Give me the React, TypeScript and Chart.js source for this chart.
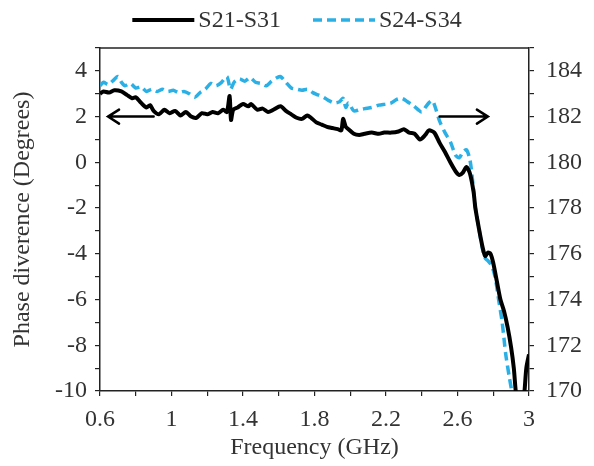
import React, { useEffect, useRef } from "react";
import { Chart, registerables } from "chart.js";

Chart.register(...registerables);

// S21-S31 (left axis, degrees)
const freqA = [0.6, 0.62, 0.65, 0.68, 0.72, 0.75, 0.78, 0.8, 0.83, 0.86, 0.88, 0.9, 0.93, 0.96, 0.99, 1.02, 1.05, 1.08, 1.11, 1.14, 1.17, 1.2, 1.23, 1.26, 1.29, 1.31, 1.325, 1.333, 1.345, 1.37, 1.4, 1.43, 1.445, 1.48, 1.51, 1.54, 1.57, 1.61, 1.64, 1.67, 1.7, 1.73, 1.76, 1.78, 1.81, 1.84, 1.87, 1.9, 1.93, 1.95, 1.96, 1.975, 1.99, 2.02, 2.05, 2.08, 2.12, 2.16, 2.19, 2.23, 2.27, 2.3, 2.33, 2.36, 2.39, 2.42, 2.44, 2.47, 2.5, 2.53, 2.56, 2.59, 2.61, 2.63, 2.65, 2.67, 2.69, 2.7, 2.72, 2.74, 2.755, 2.77, 2.785, 2.8, 2.82, 2.84, 2.86, 2.88, 2.9, 2.915, 2.93, 2.95, 2.965, 2.975, 2.985, 3.0];
const s21s31 = [3.0, 3.1, 3.05, 3.15, 3.1, 2.95, 2.8, 2.85, 2.6, 2.4, 2.5, 2.25, 2.1, 2.3, 2.15, 2.25, 2.05, 2.2, 2.0, 1.95, 2.15, 2.1, 2.2, 2.15, 2.3, 2.2, 2.9, 1.85, 2.3, 2.4, 2.55, 2.45, 2.55, 2.3, 2.35, 2.2, 2.3, 2.45, 2.25, 2.1, 1.95, 1.9, 2.05, 1.95, 1.75, 1.65, 1.55, 1.5, 1.45, 1.4, 1.9, 1.55, 1.45, 1.25, 1.2, 1.25, 1.3, 1.25, 1.3, 1.3, 1.35, 1.45, 1.3, 1.25, 1.0, 1.2, 1.4, 1.3, 0.85, 0.45, 0.0, -0.4, -0.55, -0.45, -0.2, -0.5, -1.3, -2.0, -2.9, -3.7, -4.1, -3.95, -4.0, -4.4, -5.2, -6.0, -6.5, -7.2, -8.1, -9.0, -10.3, -10.8, -10.6, -10.0, -9.0, -8.4];

// S24-S34 (right axis, degrees)
const freqB = [0.6, 0.62, 0.645, 0.67, 0.7, 0.72, 0.74, 0.77, 0.8, 0.83, 0.86, 0.89, 0.92, 0.95, 0.98, 1.01, 1.04, 1.07, 1.1, 1.13, 1.16, 1.19, 1.22, 1.25, 1.28, 1.31, 1.33, 1.35, 1.38, 1.41, 1.44, 1.47, 1.5, 1.53, 1.56, 1.59, 1.61, 1.64, 1.67, 1.7, 1.73, 1.76, 1.79, 1.82, 1.85, 1.88, 1.91, 1.94, 1.96, 1.975, 1.99, 2.02, 2.05, 2.08, 2.12, 2.16, 2.2, 2.23, 2.26, 2.29, 2.32, 2.35, 2.38, 2.4, 2.42, 2.44, 2.46, 2.48, 2.5, 2.53, 2.56, 2.59, 2.61, 2.63, 2.65, 2.67, 2.69, 2.7, 2.72, 2.74, 2.755, 2.77, 2.79, 2.81, 2.83, 2.85, 2.87, 2.89, 2.91, 2.92];
const s24s34 = [183.35, 183.5, 183.4, 183.55, 183.75, 183.5, 183.35, 183.45, 183.25, 183.3, 183.1, 183.2, 183.1, 183.2, 183.1, 183.15, 183.05, 183.1, 183.0, 182.85, 183.05, 183.2, 183.45, 183.35, 183.5, 183.75, 183.2, 183.5, 183.65, 183.55, 183.7, 183.5, 183.45, 183.35, 183.55, 183.7, 183.75, 183.5, 183.25, 183.2, 183.15, 183.2, 183.05, 182.95, 182.85, 182.7, 182.6, 182.65, 182.8, 182.4, 182.6, 182.25, 182.3, 182.35, 182.4, 182.5, 182.55, 182.6, 182.75, 182.8, 182.65, 182.5, 182.3, 182.2, 182.4, 182.6, 182.7, 182.3, 181.8, 181.3, 180.9, 180.3, 180.2, 180.45, 180.55, 180.1, 178.8, 178.0, 177.1, 176.2, 175.8, 175.7, 175.5, 175.0, 174.0, 173.0, 171.6, 170.6, 169.7, 169.2];

const seriesNames = ["S21-S31", "S24-S34"];
const seriesColors = ["#000000", "#2bb0e6"];

// Arrows: [fromFreq, toFreq, leftAxisValue]
const arrowLeft = [0.9, 0.645, 2];
const arrowRight = [2.5, 2.77, 2];

const FONT = "'Liberation Serif', 'Times New Roman', serif";
const TEXT = "#333333";
const FS = 24;

const framePlugin = {
  id: "frame",
  afterDatasetsDraw(chart: any) {
    const { ctx, chartArea, scales } = chart;
    const x = scales.x;
    const y = scales.y;
    const drawArrow = (a: number[]) => {
      const x0 = x.getPixelForValue(a[0]);
      const x1 = x.getPixelForValue(a[1]);
      const yy = y.getPixelForValue(a[2]);
      const dir = x1 > x0 ? 1 : -1;
      ctx.save();
      ctx.strokeStyle = "#000";
      ctx.lineWidth = 2.5;
      ctx.lineCap = "round";
      ctx.beginPath();
      ctx.moveTo(x0, yy);
      ctx.lineTo(x1, yy);
      ctx.moveTo(x1 - dir * 11, yy - 7);
      ctx.lineTo(x1, yy);
      ctx.lineTo(x1 - dir * 11, yy + 7);
      ctx.stroke();
      ctx.restore();
    };
    drawArrow(arrowLeft);
    drawArrow(arrowRight);
    ctx.save();
    ctx.strokeStyle = "#222";
    ctx.lineWidth = 1.5;
    ctx.beginPath();
    ctx.moveTo(chartArea.left, chartArea.top);
    ctx.lineTo(chartArea.right, chartArea.top);
    ctx.stroke();
    ctx.restore();
  },
  afterDraw(chart: any) {
    const { ctx, width } = chart;
    ctx.save();
    ctx.font = `${FS}px ${FONT}`;
    ctx.textBaseline = "middle";
    ctx.textAlign = "left";
    const lineLen = 62;
    const gap = 4;
    const itemGap = 32;
    const w0 = ctx.measureText(seriesNames[0]).width;
    const w1 = ctx.measureText(seriesNames[1]).width;
    const total = lineLen + gap + w0 + itemGap + lineLen + gap + w1;
    let cx = width / 2 - total / 2;
    const cy = 20;
    const dashes = [[], [9, 5]];
    for (let i = 0; i < 2; i++) {
      ctx.strokeStyle = seriesColors[i];
      ctx.lineWidth = i === 0 ? 4 : 3.5;
      ctx.setLineDash(dashes[i]);
      ctx.beginPath();
      ctx.moveTo(cx, cy);
      ctx.lineTo(cx + lineLen, cy);
      ctx.stroke();
      ctx.setLineDash([]);
      cx += lineLen + gap;
      ctx.fillStyle = TEXT;
      ctx.fillText(seriesNames[i], cx, cy + 1);
      cx += (i === 0 ? w0 : w1) + itemGap;
    }
    ctx.restore();
  },
};

export default function App() {
  const ref = useRef<HTMLCanvasElement | null>(null);
  useEffect(() => {
    document.body.style.margin = "0";
    const canvas = ref.current;
    if (!canvas) return;
    const tickFont = { family: FONT, size: FS };
    const chart = new Chart(canvas, {
      type: "line",
      data: {
        datasets: [
          {
            label: seriesNames[0],
            data: freqA.map((f, i) => ({ x: f, y: s21s31[i] })),
            borderColor: seriesColors[0],
            backgroundColor: seriesColors[0],
            borderWidth: 4,
            pointRadius: 0,
            tension: 0.25,
            yAxisID: "y",
            clip: 0,
          },
          {
            label: seriesNames[1],
            data: freqB.map((f, i) => ({ x: f, y: s24s34[i] })),
            borderColor: seriesColors[1],
            backgroundColor: seriesColors[1],
            borderWidth: 3.5,
            borderDash: [9, 5],
            pointRadius: 0,
            tension: 0.25,
            yAxisID: "y2",
            clip: 0,
          },
        ],
      },
      options: {
        animation: false,
        responsive: false,
        devicePixelRatio: 1,
        layout: { padding: { top: 48, left: 0, right: 0, bottom: 0 } },
        plugins: { legend: { display: false }, tooltip: { enabled: false } },
        scales: {
          x: {
            type: "linear",
            min: 0.6,
            max: 3,
            afterFit: (s: any) => { s.height = 75; },
            border: { display: true, color: "#222", width: 1.5 },
            grid: { display: true, drawOnChartArea: false, drawTicks: true, tickLength: 5, color: "#222", lineWidth: 1.2 },
            ticks: {
              stepSize: 0.2,
              autoSkip: false,
              maxRotation: 0,
              padding: 9,
              color: TEXT,
              font: tickFont,
              callback: (v: any) => {
                const t = Math.round(Number(v) * 10);
                return t % 4 === 2 ? String(t / 10) : "";
              },
            },
            title: { display: true, text: "Frequency (GHz)", color: TEXT, font: tickFont, padding: { top: 0, bottom: 4 } },
          },
          y: {
            type: "linear",
            position: "left",
            min: -10,
            max: 5,
            afterFit: (s: any) => { s.width = 100; },
            border: { display: true, color: "#222", width: 1.5 },
            grid: { display: true, drawOnChartArea: false, drawTicks: true, tickLength: 5, color: "#222", lineWidth: 1.2 },
            ticks: {
              stepSize: 1,
              autoSkip: false,
              padding: 8,
              color: TEXT,
              font: tickFont,
              callback: (v: any) => {
                const t = Math.round(Number(v));
                return t % 2 === 0 ? String(t) : "";
              },
            },
            title: { display: true, text: "Phase diverence (Degrees)", color: TEXT, font: tickFont, padding: { top: 8, bottom: 0 } },
          },
          y2: {
            type: "linear",
            position: "right",
            min: 170,
            max: 185,
            afterFit: (s: any) => { s.width = 65; },
            border: { display: true, color: "#222", width: 1.5 },
            grid: { display: true, drawOnChartArea: false, drawTicks: true, tickLength: 5, color: "#222", lineWidth: 1.2 },
            ticks: {
              stepSize: 1,
              autoSkip: false,
              padding: 12,
              color: TEXT,
              font: tickFont,
              callback: (v: any) => {
                const t = Math.round(Number(v));
                return t % 2 === 0 ? String(t) : "";
              },
            },
          },
        },
      },
      plugins: [framePlugin],
    } as any);
    return () => chart.destroy();
  }, []);
  return (
    <div style={{ width: 594, height: 466, background: "#fff" }}>
      <canvas ref={ref} width={594} height={466} />
    </div>
  );
}
